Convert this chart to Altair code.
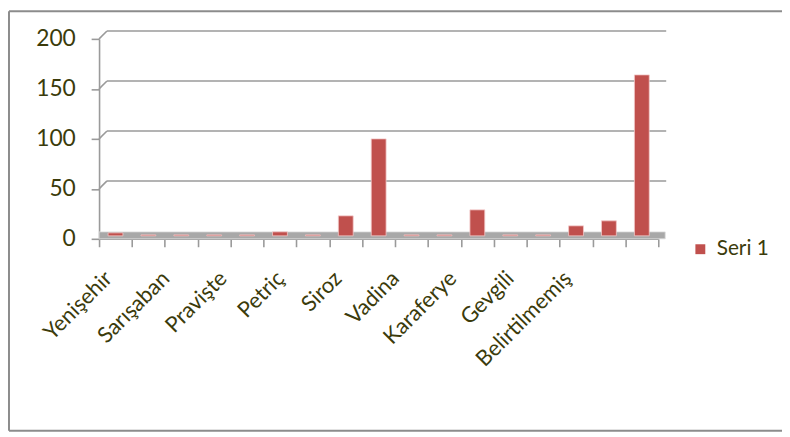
import altair as alt
import pandas as pd

# ---- data ----
category_ids = ["c01", "c02", "c03", "c04", "c05", "c06", "c07", "c08", "c09",
                "c10", "c11", "c12", "c13", "c14", "c15", "c16", "c17"]
values = [3, 1, 1, 1, 1, 4, 1, 20, 97, 1, 1, 26, 1, 1, 10, 15, 161]
axis_labels = ["Yenişehir", "Sarışaban", "Pravişte", "Petriç", "Siroz",
               "Vadina", "Karaferye", "Gevgili", "Belirtilmemiş"]
y_ticks = [0, 50, 100, 150, 200]
grid_values = [50, 100, 150, 200]
series_name = "Seri 1"

W, H = 565, 202
TXT = "#3b3b0b"
GRID = "#9a9a9a"
FONT = "Lato"

bars_df = pd.DataFrame({"cat": category_ids, "value": values, "series": series_name})
grid_df = pd.DataFrame({"v": grid_values})
labels_df = pd.DataFrame({"label": axis_labels})
one = pd.DataFrame({"a": [0]})

y_scale = alt.Scale(domain=[0, 200], nice=False)

BORDER = dict(color="#8c8c8c", strokeWidth=2)
border_left = alt.Chart(one).mark_rule(**BORDER).encode(
    x=alt.value(-91), y=alt.value(-28), y2=alt.value(396))
border_top = alt.Chart(one).mark_rule(**BORDER).encode(
    x=alt.value(-91), x2=alt.value(700), y=alt.value(-28))
border_bottom = alt.Chart(one).mark_rule(**BORDER).encode(
    x=alt.value(-91), x2=alt.value(700), y=alt.value(396))

floor = alt.Chart(one).mark_rect(color="#a8a8a8", stroke="#dcdcdc", strokeWidth=0.8,
                                  y2Offset=-7, x2Offset=7).encode(
    x=alt.value(0), x2=alt.value(W), y=alt.datum(0, scale=y_scale), y2=alt.datum(0)
)

back_grid = alt.Chart(grid_df).mark_rule(color=GRID, strokeWidth=1.6, yOffset=-8).encode(
    x=alt.value(8), x2=alt.value(W + 8), y=alt.Y("v:Q", scale=y_scale)
)
diag = alt.Chart(grid_df).mark_rule(color=GRID, strokeWidth=1.6, y2Offset=-8).encode(
    x=alt.value(0), x2=alt.value(8), y=alt.Y("v:Q", scale=y_scale), y2="v:Q"
)

bars = alt.Chart(bars_df).mark_bar(size=15, stroke="#f2c9c8", strokeWidth=0.8,
                                   yOffset=-3).encode(
    x=alt.X("cat:N", sort=category_ids,
            scale=alt.Scale(paddingInner=0, paddingOuter=0),
            axis=alt.Axis(labels=False, title=None, domainColor=GRID, domainWidth=1.6,
                          tickColor=GRID, tickWidth=1.6, tickSize=8, tickBand="extent",
                          orient="bottom", grid=False)),
    y=alt.Y("value:Q", scale=y_scale,
            axis=alt.Axis(values=y_ticks, title=None, grid=False, domainColor=GRID,
                          domainWidth=1.6, tickColor=GRID, tickWidth=1.6, tickSize=8,
                          labelFontSize=23, labelColor=TXT, labelPadding=16,
                          labelFont=FONT)),
    color=alt.Color("series:N", scale=alt.Scale(range=["#C0504D"]),
                    legend=alt.Legend(title=None, orient="none", legendX=597, legendY=202,
                                      symbolType="square", symbolSize=100,
                                      symbolStrokeWidth=0, labelFontSize=21,
                                      labelColor=TXT, labelFont=FONT, labelOffset=6)),
)

label_layer = alt.Chart(labels_df).mark_point(opacity=0).encode(
    x=alt.X("label:N", sort=axis_labels,
            scale=alt.Scale(type="point", range=[2, 466], padding=0),
            axis=alt.Axis(title=None, orient="bottom", ticks=False, domain=False,
                          labelAngle=-45, labelAlign="right", labelBaseline="top",
                          labelFontSize=22, labelColor=TXT, labelFont=FONT,
                          labelPadding=29, labelOverlap=False, grid=False)),
    y=alt.value(H),
)

chart = alt.layer(border_left, border_top, border_bottom, back_grid, diag, floor,
                  bars, label_layer).resolve_scale(
    x="independent"
).properties(
    width=W, height=H,
    autosize=alt.AutoSizeParams(type="none"),
    padding={"left": 92, "top": 29, "right": 125, "bottom": 196},
).configure(font=FONT).configure_view(strokeOpacity=0, strokeWidth=0)

chart.save("out.html", embed_options={"renderer": "svg", "actions": False})
